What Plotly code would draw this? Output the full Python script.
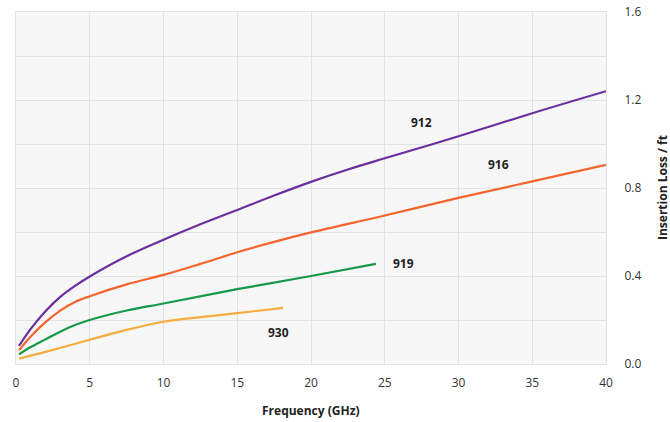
import plotly.graph_objects as go

x_912 = [0.2, 1, 2, 3, 4, 5, 7.5, 10, 12.5, 15, 17.5, 20, 22.5, 25, 30, 35, 40]
y_912 = [0.082, 0.16, 0.24, 0.305, 0.355, 0.398, 0.49, 0.565, 0.635, 0.70, 0.766, 0.828, 0.884, 0.935, 1.035, 1.14, 1.24]

x_916 = [0.2, 1, 2, 3, 4, 5, 7.5, 10, 12.5, 15, 17.5, 20, 25, 30, 35, 40]
y_916 = [0.062, 0.125, 0.19, 0.243, 0.282, 0.308, 0.362, 0.405, 0.455, 0.508, 0.555, 0.598, 0.675, 0.755, 0.83, 0.905]

x_919 = [0.2, 1, 2, 3, 4, 5, 7.5, 10, 15, 20, 24.4]
y_919 = [0.044, 0.077, 0.112, 0.147, 0.177, 0.2, 0.243, 0.275, 0.34, 0.40, 0.455]

x_930 = [0.2, 2, 5, 7.5, 10, 12.5, 15, 18.1]
y_930 = [0.024, 0.055, 0.11, 0.155, 0.192, 0.213, 0.231, 0.255]

labels = ["912", "916", "919", "930"]
label_x = [27.5, 32.7, 26.3, 17.8]
label_y = [1.10, 0.905, 0.455, 0.145]

colors = ["#6b2fa0", "#f4642e", "#17994a", "#f6ac3f"]
series = [(x_912, y_912), (x_916, y_916), (x_919, y_919), (x_930, y_930)]

font = "Open Sans"
fig = go.Figure()
for (xs, ys), c, name in zip(series, colors, labels):
    fig.add_trace(go.Scatter(x=xs, y=ys, mode="lines", name=name, hoverinfo="skip",
                             line=dict(color=c, width=2.2, shape="spline", smoothing=1.0)))

for t, lx, ly in zip(labels, label_x, label_y):
    fig.add_annotation(x=lx, y=ly, text="<b>" + t + "</b>", showarrow=False,
                       font=dict(family=font, size=12, color="#222222"))

# axis titles
fig.add_annotation(xref="paper", yref="paper", x=0.5, y=0, yshift=-46,
                   xanchor="center", yanchor="middle",
                   text="<b>Frequency (GHz)</b>", showarrow=False,
                   font=dict(family=font, size=12, color="#222222"))
fig.add_annotation(xref="paper", yref="paper", x=1, y=0.5, xshift=56,
                   xanchor="center", yanchor="middle",
                   text="<b>Insertion Loss / ft</b>", showarrow=False, textangle=-90,
                   font=dict(family=font, size=12, color="#222222"))

fig.update_layout(
    width=670, height=422,
    margin=dict(l=16, r=64, t=12, b=58, autoexpand=False),
    paper_bgcolor="white", plot_bgcolor="#f7f7f7",
    showlegend=False,
    font=dict(family=font, size=12, color="#333333"),
    xaxis=dict(range=[0, 40], dtick=5, tick0=0, showgrid=True, gridcolor="#e2e2e2",
               gridwidth=1, zeroline=False, showline=True, linecolor="#e2e2e2",
               ticks="outside", ticklen=8, tickcolor="rgba(0,0,0,0)",
               automargin=False, mirror=True,
               tickfont=dict(family=font, size=12, color="#333333")),
    yaxis=dict(range=[0, 1.6], dtick=0.4, tick0=0, side="right", tickformat=".1f",
               showgrid=True, gridcolor="#e2e2e2", zeroline=False,
               showline=True, linecolor="#e2e2e2", mirror=True,
               minor=dict(dtick=0.2, showgrid=True, gridcolor="#e2e2e2"),
               ticks="outside", ticklen=15, tickcolor="rgba(0,0,0,0)",
               automargin=False, ticklabeloverflow="allow",
               tickfont=dict(family=font, size=12, color="#333333")),
)

fig.write_html("out.html", config={"displayModeBar": False},
               post_script="document.body.style.margin='0';document.body.style.overflow='hidden';")
